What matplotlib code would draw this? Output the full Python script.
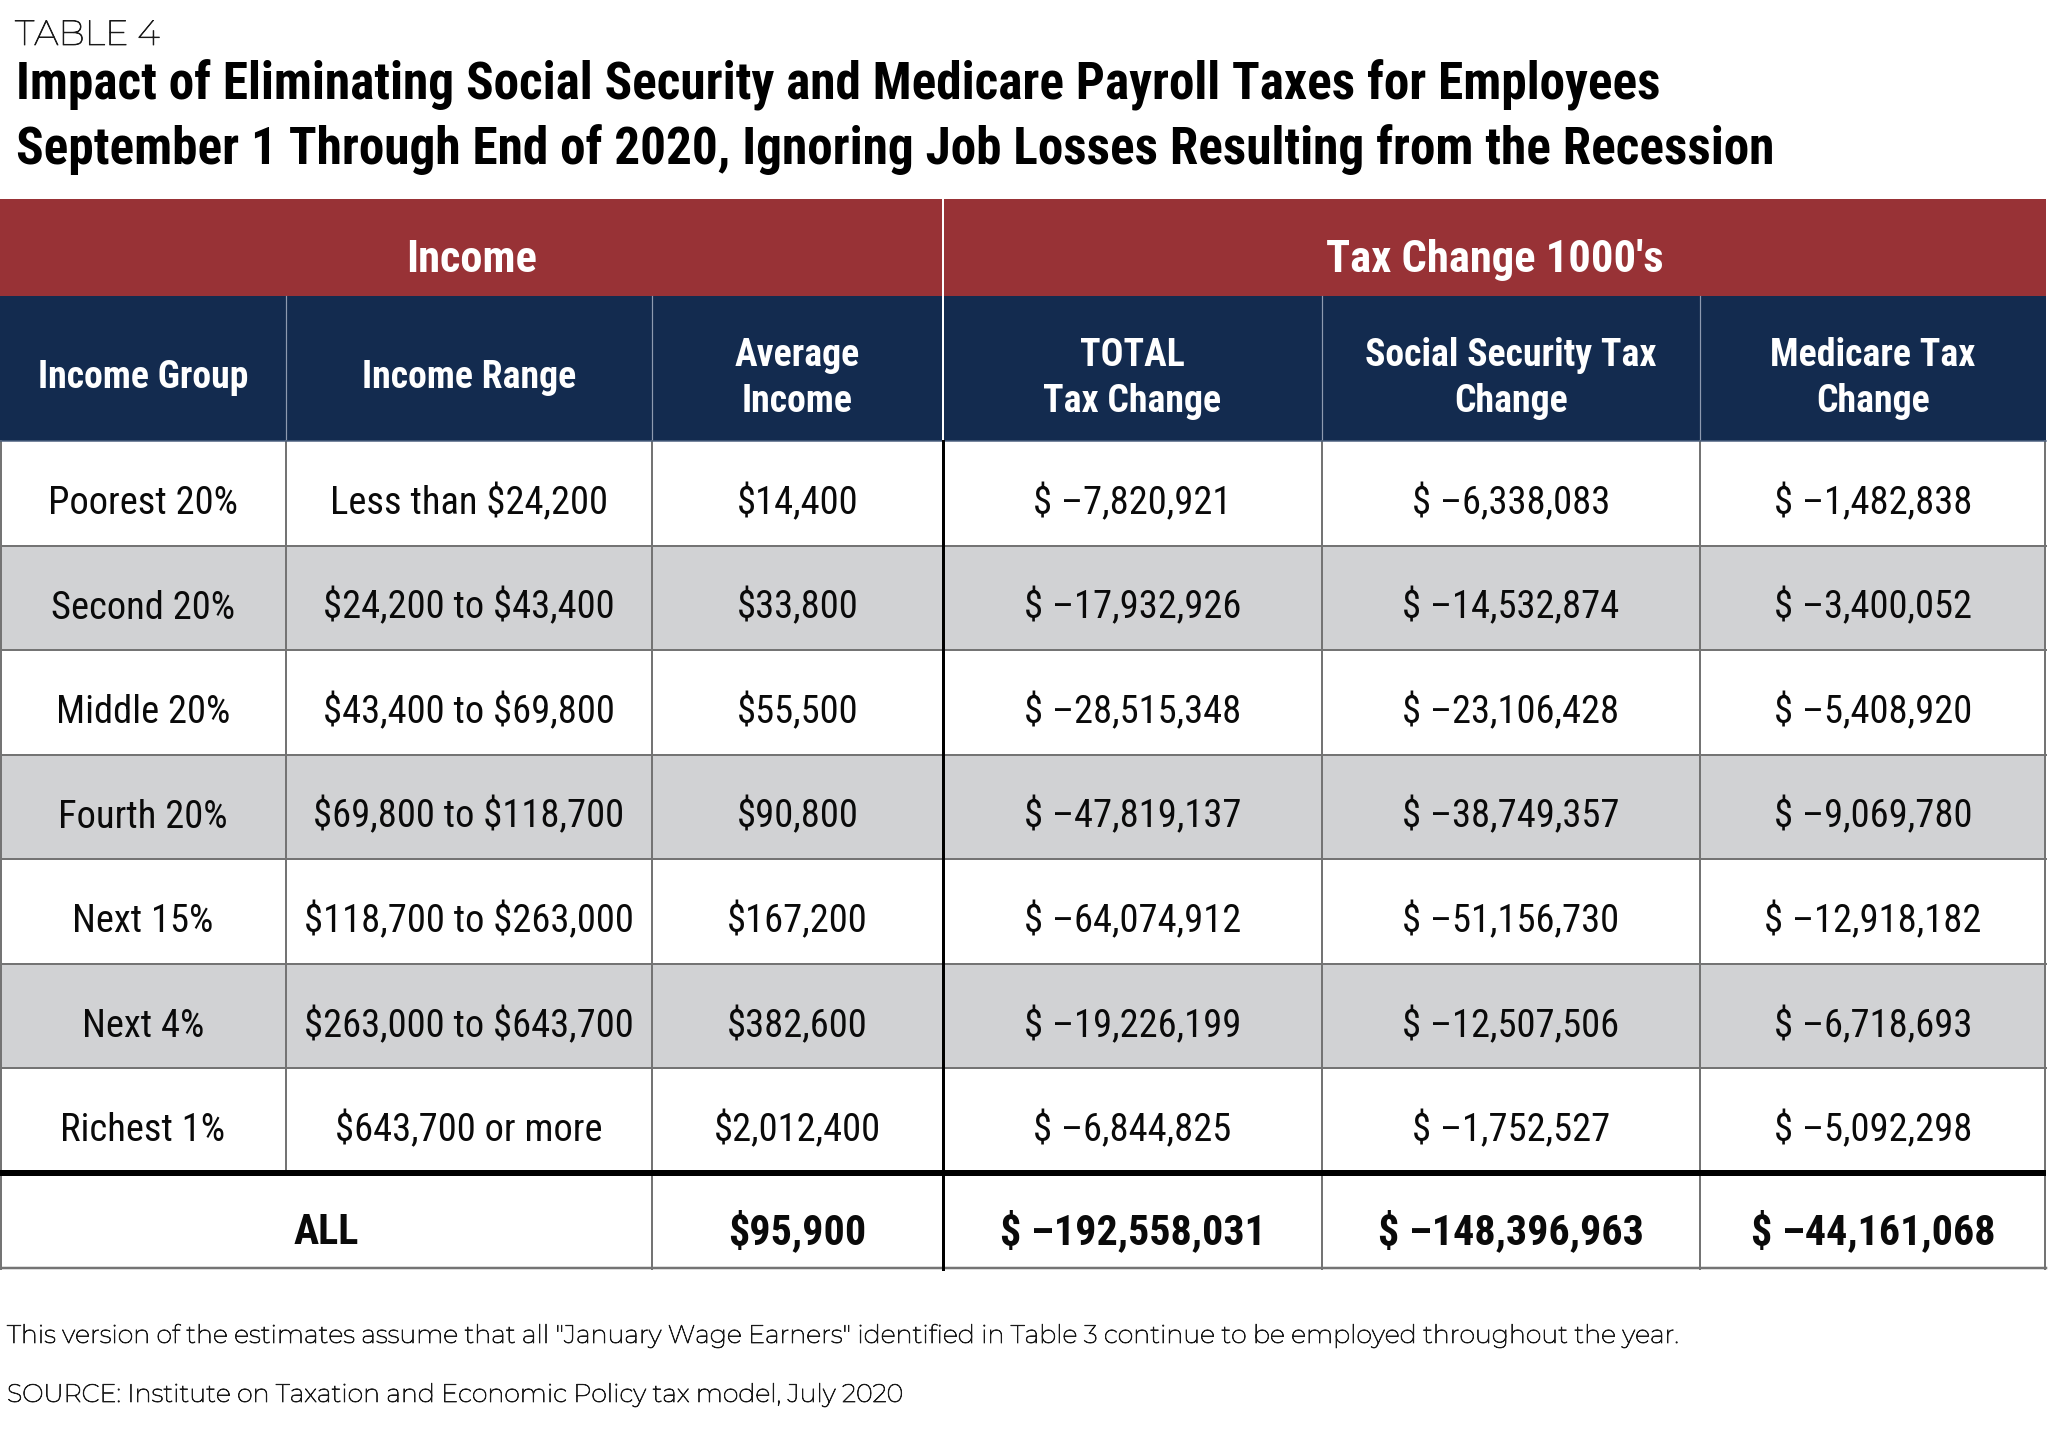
import os
import matplotlib
matplotlib.use("Agg")
import matplotlib.pyplot as plt
from matplotlib import font_manager as fm
from matplotlib import patheffects as pe
from matplotlib.font_manager import FontProperties
from matplotlib.patches import Rectangle

# ---------------- data ----------------
table_label = "TABLE 4"
title_lines = [
    "Impact of Eliminating Social Security and Medicare Payroll Taxes for Employees",
    "September 1 Through End of 2020, Ignoring Job Losses Resulting from the Recession",
]
group_headers = ["Income", "Tax Change 1000's"]
column_headers = [
    ["Income Group"],
    ["Income Range"],
    ["Average", "Income"],
    ["TOTAL", "Tax Change"],
    ["Social Security Tax", "Change"],
    ["Medicare Tax", "Change"],
]
income_groups = ["Poorest 20%", "Second 20%", "Middle 20%", "Fourth 20%",
                 "Next 15%", "Next 4%", "Richest 1%"]
income_ranges = ["Less than $24,200", "$24,200 to $43,400", "$43,400 to $69,800",
                 "$69,800 to $118,700", "$118,700 to $263,000",
                 "$263,000 to $643,700", "$643,700 or more"]
average_income = [14400, 33800, 55500, 90800, 167200, 382600, 2012400]
total_change = [-7820921, -17932926, -28515348, -47819137, -64074912, -19226199, -6844825]
ss_change = [-6338083, -14532874, -23106428, -38749357, -51156730, -12507506, -1752527]
medicare_change = [-1482838, -3400052, -5408920, -9069780, -12918182, -6718693, -5092298]
all_label = "ALL"
all_average_income = 95900
all_total = -192558031
all_ss = -148396963
all_medicare = -44161068
footnotes = [
    'This version of the estimates assume that all "January Wage Earners" identified in Table 3 continue to be employed throughout the year.',
    "SOURCE: Institute on Taxation and Economic Policy tax model, July 2020",
]

# ---------------- fonts ----------------
def _wnum(w):
    if isinstance(w, (int, float)):
        return float(w)
    return {"ultralight": 200, "light": 300, "normal": 400, "regular": 400,
            "book": 400, "medium": 500, "roman": 400, "semibold": 600,
            "demibold": 600, "demi": 600, "bold": 700, "heavy": 800,
            "extra bold": 800, "black": 900}.get(str(w).lower(), 400)

COND_KEYS = ["robotocondensed", "notosanscondensed", "opensanscondensed",
             "liberationsansnarrow", "dejavusanscondensed", "arialnarrow"]
EXCLUDE = ["italic", "alternates", "subrayada", "oblique", "underline"]

def find_font(keys, weight, exact=False):
    best = None
    for f in fm.fontManager.ttflist:
        base = os.path.basename(f.fname).lower()
        norm = base.replace("-", "").replace("_", "").replace(" ", "")
        fam = f.name.lower().replace(" ", "")
        if f.style != "normal" or any(e in norm or e in fam for e in EXCLUDE):
            continue
        rank = None
        for i, k in enumerate(keys):
            if fam == k or (not exact and norm.startswith(k)):
                rank = i
                break
        if rank is None:
            continue
        score = (rank, abs(_wnum(f.weight) - weight))
        if best is None or score < best[0]:
            best = (score, f.fname, _wnum(f.weight))
    return best

_b = find_font(COND_KEYS, 700)
_r = find_font(COND_KEYS, 400)
_bold_path = _b[1] if _b else None
_reg_path = _r[1] if _r else None
_lt = find_font(["montserrat"], 300, exact=True)

def cond_font(bold, size):
    path = _bold_path if bold else _reg_path
    if path:
        return FontProperties(fname=path, size=size)
    return FontProperties(family=["Roboto", "DejaVu Sans"],
                          weight="bold" if bold else "normal", size=size)

if _lt is not None:
    _lt_path = _lt[1]
    _stroke = 0.55 if ("[" in _lt_path or _lt[2] < 300) else 0.3
else:
    _lt_path = None
    _stroke = 0.0

def light_font(size):
    if _lt_path:
        return FontProperties(fname=_lt_path, size=size)
    return FontProperties(family=["Open Sans", "Lato", "DejaVu Sans"],
                          weight="light", size=size)

light_effects = [pe.withStroke(linewidth=_stroke, foreground="#1a1a1a")] if _stroke else []

# ---------------- layout ----------------
W, H = 2048, 1444
col_edges = [0, 286, 652, 943, 1322, 1700, 2046]
red_top, red_bot, navy_bot = 199, 296, 441
all_top, all_bot = 1173, 1269
n_rows = len(income_groups)
row_h = (all_top - navy_bot) / n_rows

RED = "#983236"
NAVY = "#132B4F"
GRAY = "#D1D2D4"
LINE = "#747474"
PX = 0.72  # points per pixel at dpi 100
MINUS = "\u2013"

fig = plt.figure(figsize=(W / 100, H / 100), dpi=100)
ax = fig.add_axes([0, 0, 1, 1])
ax.set_xlim(0, W)
ax.set_ylim(H, 0)
ax.axis("off")
renderer = fig.canvas.get_renderer()

def width_px(t):
    return t.get_window_extent(renderer).width

def put(x, y, s, fp, **kw):
    kw.setdefault("va", "baseline")
    kw.setdefault("zorder", 3)
    return ax.text(x, y, s, fontproperties=fp, parse_math=False, **kw)

# ---- title (fit widths) ----
title_size = 37
title_targets = [1640, 1758]
title_baselines = [99.5, 164]
title_objs = []
ratios = []
for line, yb, tw in zip(title_lines, title_baselines, title_targets):
    t = put(16, yb, line, cond_font(True, title_size), ha="left", color="black")
    title_objs.append(t)
    ratios.append(tw / width_px(t))
scale = sum(ratios) / len(ratios)
scale = max(0.7, min(1.15, scale))
for t in title_objs:
    t.set_fontsize(title_size * scale)
cs = scale  # global size factor for condensed text

# TABLE 4 label
t = put(15, 45, table_label, light_font(25), ha="left", color="#1a1a1a",
        path_effects=light_effects)
t.set_fontsize(25 * min(1.2, max(0.8, 145 / width_px(t))))

# ---- header backgrounds ----
ax.add_patch(Rectangle((0, red_top), col_edges[-1], red_bot - red_top,
                       facecolor=RED, edgecolor="none", zorder=1))
ax.add_patch(Rectangle((0, red_bot), col_edges[-1], navy_bot - red_bot,
                       facecolor=NAVY, edgecolor="none", zorder=1))

def cap_px(size_pt):
    return 0.711 * size_pt / PX

# group headers
group_spans = [(col_edges[0], col_edges[3]), (col_edges[3], col_edges[6])]
gsize = 32.2 * cs
for label, (x0, x1) in zip(group_headers, group_spans):
    put((x0 + x1) / 2, 256 + cap_px(gsize) / 2, label, cond_font(True, gsize),
        color="white", ha="center")

# column headers
hsize = 27.3 * cs
col_centers = [(col_edges[i] + col_edges[i + 1]) / 2 for i in range(6)]
for lines, xc in zip(column_headers, col_centers):
    baselines = [388.5] if len(lines) == 1 else [366, 411.7]
    for ln, yb in zip(lines, baselines):
        put(xc, yb, ln, cond_font(True, hsize), color="white", ha="center")

# header separators
for x in col_edges[1:-1]:
    if x == col_edges[3]:
        ax.plot([x, x], [red_top, navy_bot], color="white", lw=2 * PX, zorder=2)
    else:
        ax.plot([x, x], [red_bot, navy_bot], color="#8e9ab0", lw=1.2 * PX, zorder=2)

# ---- body ----
def money(v):
    return "${:,}".format(v)

def tax(v):
    return "$ " + MINUS + "{:,}".format(abs(v))

bsize = 27.8 * cs
for i in range(n_rows):
    y0 = navy_bot + i * row_h
    fc = GRAY if i % 2 == 1 else "white"
    ax.add_patch(Rectangle((0, y0), col_edges[-1], row_h, facecolor=fc,
                           edgecolor="none", zorder=1))
    cells = [income_groups[i], income_ranges[i], money(average_income[i]),
             tax(total_change[i]), tax(ss_change[i]), tax(medicare_change[i])]
    yb = y0 + row_h / 2 + 7 + cap_px(bsize) / 2
    for txt, xc in zip(cells, col_centers):
        put(xc, yb, txt, cond_font(False, bsize), color="#0a0a0a", ha="center")

# ALL row
ax.add_patch(Rectangle((0, all_top), col_edges[-1], all_bot - all_top,
                       facecolor="white", edgecolor="none", zorder=1))
asize = 30.4 * cs
yb_all = (all_top + 3 + all_bot) / 2 + 7 + cap_px(asize) / 2
all_cells = [(all_label, (col_edges[0] + col_edges[2]) / 2),
             (money(all_average_income), col_centers[2]),
             (tax(all_total), col_centers[3]),
             (tax(all_ss), col_centers[4]),
             (tax(all_medicare), col_centers[5])]
for txt, xc in all_cells:
    put(xc, yb_all, txt, cond_font(True, asize), color="#0a0a0a", ha="center")

# ---- grid lines ----
for i in range(1, n_rows):
    y = navy_bot + i * row_h
    ax.plot([0, col_edges[-1]], [y, y], color=LINE, lw=2 * PX, zorder=2)
ax.plot([col_edges[1]] * 2, [navy_bot, all_top], color=LINE, lw=2 * PX, zorder=2)
for x in [col_edges[2], col_edges[4], col_edges[5]]:
    ax.plot([x, x], [navy_bot, all_bot], color=LINE, lw=2 * PX, zorder=2)
ax.plot([col_edges[3]] * 2, [navy_bot, all_bot], color="black", lw=3 * PX, zorder=2.5)
# outer borders
ax.plot([1, 1], [navy_bot, all_bot], color=LINE, lw=2 * PX, zorder=2)
ax.plot([col_edges[-1] - 1] * 2, [navy_bot, all_bot], color=LINE, lw=2 * PX, zorder=2)
ax.plot([0, col_edges[-1]], [all_bot - 1, all_bot - 1], color=LINE, lw=2.5 * PX, zorder=2)
ax.plot([0, col_edges[-1]], [navy_bot, navy_bot], color="#4a5f7e", lw=1.5 * PX, zorder=2)
# thick separator
ax.plot([0, col_edges[-1]], [all_top, all_top], color="black", lw=6 * PX,
        zorder=2.6, solid_capstyle="butt")

# ---- footnotes ----
fsize = 17.0
f1 = put(7, 1343, footnotes[0], light_font(fsize), ha="left", color="#1a1a1a",
         path_effects=light_effects)
fsize = fsize * max(0.75, min(1.3, 1675 / width_px(f1)))
f1.set_fontsize(fsize)
put(7, 1402, footnotes[1], light_font(fsize), ha="left", color="#1a1a1a",
    path_effects=light_effects)

fig.savefig("out.png", dpi=100, facecolor="white")
